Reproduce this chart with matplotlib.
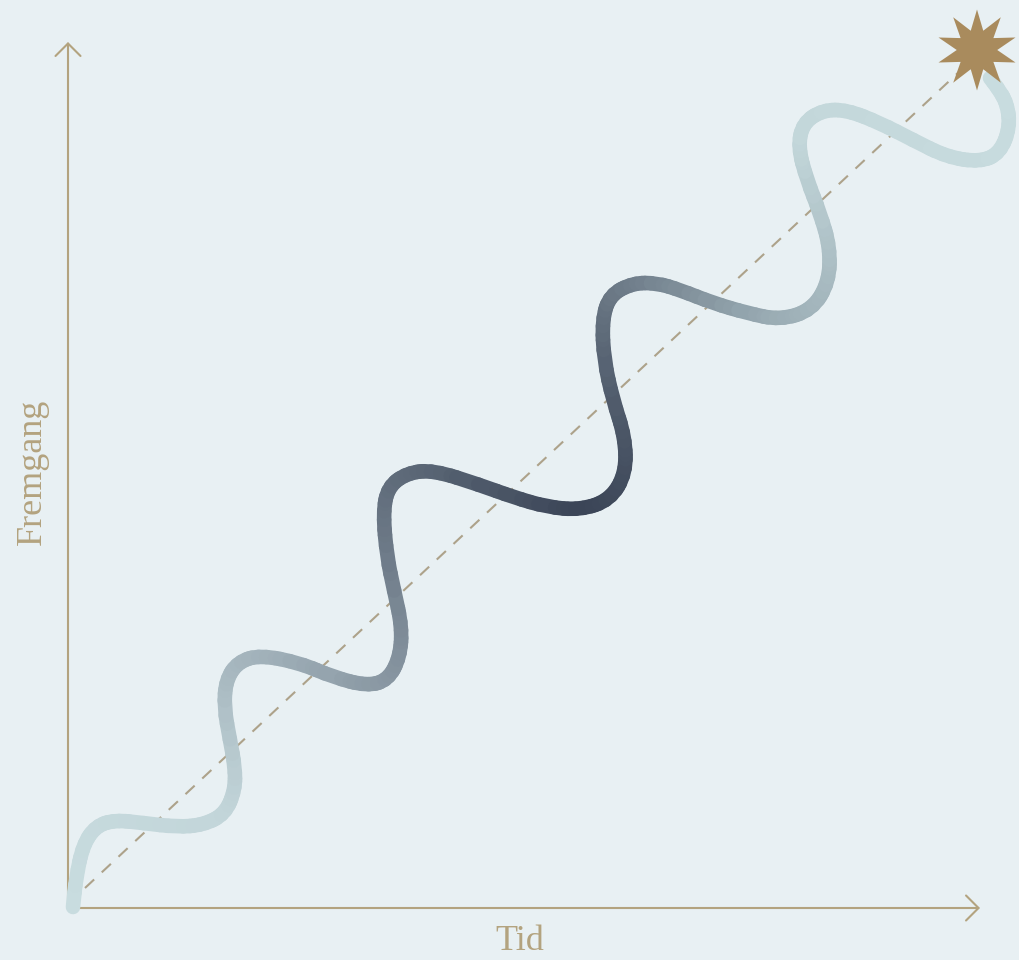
import numpy as np
import matplotlib.pyplot as plt
from matplotlib.path import Path
from matplotlib.collections import LineCollection
from matplotlib.colors import LinearSegmentedColormap

# wave (time, progress), origin at the axes corner
wave_t = [5, 8, 15, 28, 47, 75, 109, 135, 157, 167, 167, 162, 156, 158, 170, 192,
          232, 265, 299, 320, 332, 334, 326, 319, 315, 320, 339, 365, 412, 445, 479,
          512, 542, 558, 557, 545, 536, 534, 542, 565, 589, 612, 645, 679, 712, 744,
          761, 762, 752, 739, 730, 735, 755, 779, 812, 845, 879, 912, 932, 942, 939,
          929, 922]
wave_p = [1, 30, 63, 82, 88, 85, 81, 83, 94, 118, 141, 168, 201, 228, 246, 253,
          245, 231, 222, 228, 251, 281, 318, 351, 395, 421, 435, 438, 423, 411, 401,
          398, 408, 435, 471, 508, 548, 588, 613, 625, 625, 618, 605, 595, 588, 598,
          626, 661, 695, 728, 761, 785, 798, 798, 785, 768, 751, 746, 755, 781, 805,
          821, 830]

trend_t = [17, 907]
trend_p = [20, 851]
star_t, star_p = 909, 858

bg = "#E8F0F3"
tan = "#B3A37F"

fig = plt.figure(figsize=(10.19, 9.6), dpi=100)
fig.patch.set_facecolor(bg)
ax = fig.add_axes([0, 0, 1, 1])
ax.set_facecolor(bg)
ax.set_xlim(-68, 951)
ax.set_ylim(-52, 908)
ax.axis("off")

# axes arrows
arrow = dict(arrowstyle="->,head_length=0.45,head_width=0.45", color=tan,
             lw=1.5, mutation_scale=20, shrinkA=0, shrinkB=0)
ax.annotate("", xy=(912, 0), xytext=(0, 0), arrowprops=arrow)
ax.annotate("", xy=(0, 866), xytext=(0, 0), arrowprops=arrow)

ax.text(452, -33, "Tid", ha="center", va="center", fontsize=26,
        family="Liberation Serif", color=tan)
ax.text(-36, 436, "Fremgang", ha="center", va="center", fontsize=26,
        rotation=90, family="Liberation Serif", color=tan)

# dashed trend
ax.plot(trend_t, trend_p, color="#ADA28A", lw=1.5, ls=(0, (6, 5)), zorder=2)

# smooth wave: quadratic curves through midpoints of the read points
pts = np.column_stack([wave_t, wave_p]).astype(float)
verts = [pts[0], (pts[0] + pts[1]) / 2]
codes = [Path.MOVETO, Path.LINETO]
for i in range(1, len(pts) - 1):
    verts += [pts[i], (pts[i] + pts[i + 1]) / 2]
    codes += [Path.CURVE3, Path.CURVE3]
verts.append(pts[-1])
codes.append(Path.LINETO)
path = Path(verts, codes)
flat = np.vstack(path.to_polygons(closed_only=False))

seg = np.stack([flat[:-1], flat[1:]], axis=1)
arc = np.concatenate([[0], np.cumsum(np.hypot(*np.diff(flat, axis=0).T))])
frac = (arc[:-1] + arc[1:]) / 2 / arc[-1]

cmap = LinearSegmentedColormap.from_list("wave", [
    (0.0, "#C8DCDF"), (0.12, "#C2D5D9"), (0.25, "#95A4AE"), (0.4, "#5E6A79"),
    (0.5, "#3A4456"), (0.6, "#5A6675"), (0.72, "#9AACB4"), (0.84, "#C3D7DA"),
    (1.0, "#C8DCDF")])
lc = LineCollection(seg, colors=cmap(frac), linewidths=10.5, capstyle="round",
                    joinstyle="round", zorder=3)
ax.add_collection(lc)

# star at the goal
ax.scatter([star_t], [star_p], marker=(10, 1, 0), s=3400, color="#A98B5D",
           edgecolors="none", zorder=4)

fig.savefig("out.png", dpi=100, facecolor=bg)
